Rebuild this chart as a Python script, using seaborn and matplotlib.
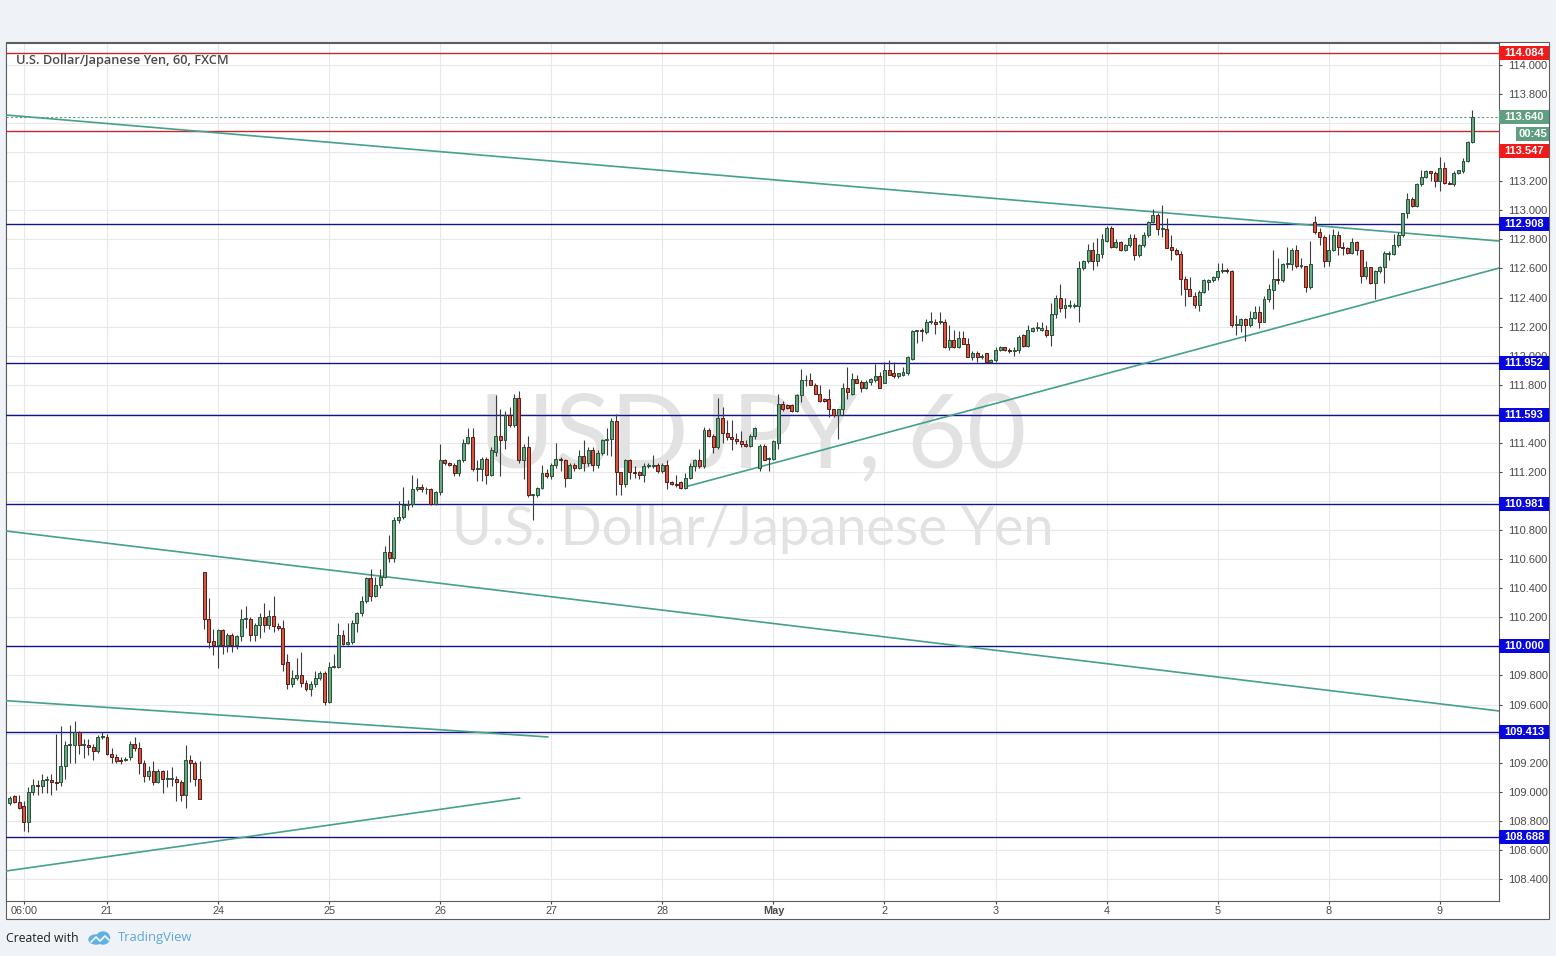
"""
USD/JPY horario (60 min, FXCM), 20 abr – 9 may 2017, estilo TradingView.
Velas leídas del gráfico; niveles horizontales y líneas de tendencia dibujadas a mano.
"""

import numpy as np
import pandas as pd
import matplotlib
matplotlib.use("Agg")
import matplotlib.pyplot as plt
import matplotlib.transforms as mtransforms
from matplotlib.patches import Rectangle, Ellipse
import seaborn as sns

# ─── Datos ──────────────────────────────────────────────────────────────────

# índice de barra: 0 = 21 abr 00:00; la primera vela es 20 abr 03:00
PRIMER_INDICE = -21

OPEN = [
    108.92, 108.97, 108.93, 108.90, 108.79, 109.00, 109.05, 109.04, 109.08, 109.08, 109.07, 109.07, 109.18, 109.32, 109.32, 109.41, 109.32, 109.32, 109.31, 109.28, 109.38,  # 20 abr
    109.38, 109.26, 109.24, 109.22, 109.22, 109.24, 109.33, 109.30, 109.20, 109.11, 109.14, 109.07, 109.14, 109.09, 109.09, 109.09, 109.07, 108.98, 109.22, 109.20, 109.09,  # 21 abr
    110.51, 110.19, 110.04, 110.01, 110.11, 110.01, 110.08, 110.01, 110.07, 110.19, 110.19, 110.08, 110.15, 110.20, 110.15, 110.21, 110.14, 110.13, 109.89, 109.74, 109.78, 109.80, 109.75, 109.71, 109.74, 109.78, 109.82,  # 23-24 abr
    109.62, 109.86, 109.86, 110.08, 110.02, 110.03, 110.16, 110.23, 110.31, 110.47, 110.35, 110.42, 110.48, 110.65, 110.61, 110.87, 110.89, 110.97, 110.98, 111.08, 111.10, 111.08, 111.08, 110.98,  # 25 abr
    111.06, 111.28, 111.26, 111.25, 111.19, 111.28, 111.40, 111.44, 111.22, 111.22, 111.29, 111.18, 111.34, 111.45, 111.42, 111.59, 111.52, 111.71, 111.28, 111.37, 111.04, 111.04, 111.09, 111.19,  # 26 abr
    111.17, 111.25, 111.29, 111.28, 111.16, 111.25, 111.23, 111.31, 111.26, 111.35, 111.25, 111.33, 111.42, 111.43, 111.55, 111.20, 111.12, 111.28, 111.20, 111.20, 111.18, 111.24, 111.24, 111.25,  # 27 abr
    111.21, 111.25, 111.13, 111.12, 111.13, 111.09, 111.16, 111.24, 111.28, 111.24, 111.49, 111.45, 111.37, 111.57, 111.47, 111.44, 111.43, 111.41, 111.39, 111.38, 111.45, 111.23, 111.38, 111.29,  # 28-30 abr
    111.29, 111.40, 111.67, 111.66, 111.66, 111.62, 111.73, 111.83, 111.83, 111.80, 111.74, 111.70, 111.70, 111.63, 111.59, 111.63, 111.78, 111.74, 111.84, 111.82, 111.78, 111.82, 111.83, 111.86,  # 1 may
    111.81, 111.90, 111.88, 111.86, 111.87, 111.88, 111.98, 112.17, 112.18, 112.16, 112.23, 112.23, 112.23, 112.23, 112.06, 112.11, 112.06, 112.12, 112.08, 111.99, 112.02, 111.99, 112.02, 111.96,  # 2 may
    111.97, 112.04, 112.06, 112.04, 112.03, 112.04, 112.14, 112.07, 112.17, 112.19, 112.18, 112.18, 112.14, 112.29, 112.40, 112.33, 112.34, 112.34, 112.34, 112.60, 112.65, 112.73, 112.65, 112.70,  # 3 may
    112.79, 112.88, 112.75, 112.78, 112.73, 112.76, 112.81, 112.69, 112.76, 112.83, 112.92, 112.97, 112.87, 112.87, 112.75, 112.73, 112.70, 112.53, 112.46, 112.41, 112.35, 112.44, 112.51, 112.52,  # 4 may
    112.54, 112.58, 112.59, 112.58, 112.21, 112.21, 112.25, 112.21, 112.26, 112.30, 112.23, 112.39, 112.45, 112.53, 112.52, 112.63, 112.63, 112.73, 112.62, 112.62, 112.47, 112.92, 112.85, 112.82,  # 5-7 may
    112.65, 112.73, 112.83, 112.75, 112.74, 112.71, 112.78, 112.73, 112.55, 112.61, 112.50, 112.58, 112.61, 112.70, 112.70, 112.76, 112.83, 112.98, 113.08, 113.03, 113.18, 113.23, 113.27, 113.26,  # 8 may
    113.20, 113.29, 113.19, 113.18, 113.26, 113.27, 113.34, 113.47,  # 9 may
]

HIGH = [
    108.97, 108.98, 108.98, 108.94, 109.03, 109.09, 109.08, 109.12, 109.11, 109.12, 109.40, 109.45, 109.35, 109.46, 109.49, 109.42, 109.36, 109.36, 109.33, 109.39, 109.41,
    109.40, 109.30, 109.26, 109.24, 109.24, 109.35, 109.38, 109.34, 109.22, 109.18, 109.21, 109.16, 109.15, 109.15, 109.17, 109.11, 109.08, 109.32, 109.25, 109.21, 109.21,
    110.51, 110.33, 110.12, 110.12, 110.12, 110.09, 110.09, 110.08, 110.26, 110.28, 110.20, 110.16, 110.23, 110.30, 110.25, 110.35, 110.16, 110.18, 109.95, 109.84, 109.92, 109.96, 109.77, 109.76, 109.83, 109.83, 109.83,
    109.89, 109.95, 110.16, 110.11, 110.16, 110.18, 110.24, 110.35, 110.48, 110.53, 110.48, 110.53, 110.69, 110.77, 110.89, 111.00, 111.10, 111.01, 111.18, 111.16, 111.12, 111.10, 111.09, 111.07,
    111.39, 111.29, 111.27, 111.26, 111.29, 111.43, 111.50, 111.50, 111.28, 111.30, 111.30, 111.37, 111.73, 111.63, 111.62, 111.65, 111.74, 111.76, 111.39, 111.45, 111.05, 111.10, 111.25, 111.22,
    111.26, 111.40, 111.30, 111.29, 111.26, 111.26, 111.35, 111.42, 111.37, 111.37, 111.35, 111.43, 111.50, 111.57, 111.60, 111.20, 111.29, 111.29, 111.24, 111.21, 111.26, 111.26, 111.32, 111.26,
    111.26, 111.28, 111.14, 111.18, 111.14, 111.19, 111.26, 111.29, 111.36, 111.51, 111.50, 111.46, 111.71, 111.65, 111.56, 111.56, 111.47, 111.48, 111.42, 111.46, 111.51, 111.39, 111.39, 111.30,
    111.42, 111.74, 111.69, 111.67, 111.67, 111.74, 111.91, 111.87, 111.88, 111.81, 111.80, 111.71, 111.77, 111.63, 111.63, 111.81, 111.92, 111.88, 111.87, 111.83, 111.83, 111.85, 111.94, 111.89,
    111.96, 111.97, 111.96, 111.88, 111.92, 112.00, 112.18, 112.18, 112.19, 112.25, 112.30, 112.25, 112.30, 112.25, 112.21, 112.18, 112.17, 112.17, 112.12, 112.03, 112.03, 112.01, 112.02, 111.98,
    112.06, 112.07, 112.06, 112.05, 112.06, 112.14, 112.15, 112.21, 112.20, 112.23, 112.23, 112.21, 112.36, 112.42, 112.49, 112.40, 112.38, 112.36, 112.65, 112.66, 112.77, 112.78, 112.81, 112.84,
    112.89, 112.89, 112.80, 112.79, 112.77, 112.84, 112.84, 112.77, 112.85, 112.93, 113.01, 112.98, 113.04, 112.95, 112.83, 112.74, 112.72, 112.55, 112.54, 112.44, 112.45, 112.53, 112.53, 112.55,
    112.64, 112.64, 112.60, 112.59, 112.28, 112.26, 112.26, 112.31, 112.34, 112.34, 112.41, 112.49, 112.73, 112.67, 112.64, 112.75, 112.74, 112.76, 112.67, 112.62, 112.79, 112.96, 112.88, 112.83,
    112.84, 112.87, 112.86, 112.78, 112.75, 112.81, 112.79, 112.73, 112.65, 112.61, 112.59, 112.62, 112.72, 112.72, 112.84, 112.85, 112.98, 113.12, 113.09, 113.19, 113.28, 113.28, 113.27, 113.27,
    113.37, 113.33, 113.20, 113.27, 113.28, 113.36, 113.48, 113.69,
]

LOW = [
    108.91, 108.92, 108.88, 108.73, 108.72, 108.98, 108.98, 108.99, 108.99, 108.98, 109.01, 109.04, 109.09, 109.20, 109.20, 109.26, 109.23, 109.25, 109.22, 109.27, 109.36,
    109.25, 109.20, 109.20, 109.19, 109.21, 109.22, 109.28, 109.12, 109.07, 109.08, 109.05, 109.06, 108.99, 109.03, 109.04, 108.94, 108.94, 108.89, 109.07, 109.04, 108.95,
    110.12, 109.99, 109.94, 109.85, 109.95, 109.96, 109.96, 109.98, 110.04, 110.13, 110.04, 110.04, 110.06, 110.10, 110.12, 110.10, 110.11, 109.83, 109.71, 109.72, 109.77, 109.72, 109.69, 109.66, 109.72, 109.77, 109.60,
    109.61, 109.85, 109.85, 110.01, 110.01, 110.02, 110.10, 110.21, 110.30, 110.31, 110.34, 110.40, 110.47, 110.58, 110.58, 110.85, 110.88, 110.94, 110.96, 111.07, 111.06, 111.05, 110.97, 110.97,
    111.04, 111.25, 111.24, 111.17, 111.17, 111.27, 111.39, 111.21, 111.14, 111.14, 111.12, 111.17, 111.31, 111.17, 111.36, 111.51, 111.51, 111.26, 111.15, 111.03, 110.87, 111.03, 111.08, 111.16,
    111.15, 111.23, 111.21, 111.10, 111.16, 111.21, 111.22, 111.21, 111.24, 111.21, 111.23, 111.32, 111.32, 111.31, 111.04, 111.04, 111.10, 111.15, 111.16, 111.15, 111.13, 111.23, 111.23, 111.19,
    111.19, 111.08, 111.11, 111.10, 111.08, 111.08, 111.15, 111.21, 111.23, 111.23, 111.44, 111.33, 111.36, 111.40, 111.42, 111.35, 111.39, 111.37, 111.37, 111.37, 111.43, 111.21, 111.28, 111.21,
    111.28, 111.36, 111.62, 111.63, 111.61, 111.61, 111.68, 111.79, 111.80, 111.74, 111.68, 111.68, 111.58, 111.58, 111.43, 111.59, 111.70, 111.73, 111.81, 111.75, 111.77, 111.80, 111.82, 111.78,
    111.81, 111.87, 111.85, 111.85, 111.86, 111.87, 111.97, 112.09, 112.10, 112.15, 112.22, 112.15, 112.22, 112.05, 112.04, 112.05, 112.05, 112.08, 111.99, 111.97, 111.96, 111.98, 111.95, 111.95,
    111.96, 112.03, 112.03, 112.02, 112.00, 112.02, 112.06, 112.06, 112.16, 112.17, 112.17, 112.13, 112.07, 112.26, 112.30, 112.26, 112.33, 112.33, 112.23, 112.59, 112.64, 112.59, 112.62, 112.67,
    112.78, 112.74, 112.74, 112.72, 112.72, 112.75, 112.66, 112.68, 112.75, 112.82, 112.91, 112.83, 112.82, 112.74, 112.66, 112.69, 112.42, 112.34, 112.41, 112.33, 112.31, 112.43, 112.45, 112.51,
    112.52, 112.57, 112.57, 112.20, 112.14, 112.16, 112.10, 112.20, 112.25, 112.19, 112.23, 112.37, 112.32, 112.49, 112.51, 112.60, 112.59, 112.60, 112.60, 112.44, 112.46, 112.84, 112.76, 112.61,
    112.62, 112.72, 112.69, 112.69, 112.70, 112.70, 112.69, 112.50, 112.53, 112.49, 112.39, 112.57, 112.50, 112.66, 112.69, 112.75, 112.82, 112.95, 113.02, 113.02, 113.17, 113.22, 113.20, 113.16,
    113.13, 113.18, 113.18, 113.17, 113.25, 113.26, 113.33, 113.46,
]

CLOSE = [
    108.96, 108.93, 108.89, 108.79, 109.00, 109.05, 109.04, 109.08, 109.08, 109.07, 109.06, 109.18, 109.32, 109.32, 109.41, 109.32, 109.32, 109.31, 109.28, 109.38, 109.38,
    109.26, 109.24, 109.21, 109.21, 109.22, 109.33, 109.30, 109.20, 109.11, 109.14, 109.07, 109.14, 109.09, 109.09, 109.09, 109.07, 108.98, 109.22, 109.20, 109.09, 108.95,
    110.19, 110.03, 110.01, 110.11, 110.01, 110.08, 110.01, 110.07, 110.19, 110.19, 110.08, 110.15, 110.20, 110.15, 110.21, 110.14, 110.13, 109.88, 109.74, 109.78, 109.80, 109.75, 109.71, 109.74, 109.78, 109.82, 109.62,
    109.86, 109.86, 110.08, 110.02, 110.03, 110.16, 110.23, 110.31, 110.47, 110.35, 110.42, 110.48, 110.65, 110.61, 110.87, 110.89, 110.97, 110.98, 111.08, 111.10, 111.08, 111.08, 110.98, 111.06,
    111.28, 111.26, 111.25, 111.19, 111.28, 111.40, 111.44, 111.22, 111.22, 111.29, 111.18, 111.35, 111.45, 111.42, 111.59, 111.52, 111.71, 111.28, 111.37, 111.04, 111.04, 111.09, 111.19, 111.17,
    111.25, 111.29, 111.28, 111.16, 111.25, 111.23, 111.31, 111.26, 111.35, 111.25, 111.33, 111.42, 111.43, 111.55, 111.20, 111.12, 111.28, 111.20, 111.19, 111.18, 111.24, 111.24, 111.25, 111.21,
    111.25, 111.13, 111.12, 111.11, 111.09, 111.16, 111.24, 111.28, 111.24, 111.49, 111.45, 111.37, 111.57, 111.47, 111.44, 111.43, 111.41, 111.39, 111.38, 111.45, 111.50, 111.38, 111.28, 111.29,
    111.41, 111.67, 111.63, 111.64, 111.62, 111.73, 111.83, 111.83, 111.80, 111.74, 111.69, 111.69, 111.63, 111.59, 111.63, 111.78, 111.75, 111.84, 111.81, 111.78, 111.82, 111.84, 111.86, 111.78,
    111.90, 111.87, 111.86, 111.88, 111.89, 111.99, 112.17, 112.18, 112.17, 112.23, 112.23, 112.22, 112.23, 112.06, 112.11, 112.06, 112.12, 112.08, 111.99, 112.02, 111.99, 112.00, 111.96, 111.97,
    112.04, 112.06, 112.04, 112.03, 112.04, 112.13, 112.07, 112.18, 112.19, 112.19, 112.19, 112.14, 112.29, 112.40, 112.33, 112.35, 112.35, 112.35, 112.60, 112.65, 112.73, 112.65, 112.70, 112.80,
    112.88, 112.75, 112.78, 112.73, 112.76, 112.81, 112.69, 112.76, 112.83, 112.92, 112.97, 112.87, 112.87, 112.74, 112.73, 112.70, 112.53, 112.46, 112.41, 112.35, 112.44, 112.52, 112.52, 112.54,
    112.58, 112.59, 112.58, 112.21, 112.21, 112.25, 112.21, 112.26, 112.30, 112.23, 112.39, 112.46, 112.53, 112.52, 112.63, 112.63, 112.73, 112.62, 112.62, 112.47, 112.63, 112.85, 112.82, 112.65,
    112.73, 112.83, 112.75, 112.74, 112.71, 112.78, 112.73, 112.55, 112.61, 112.50, 112.58, 112.61, 112.71, 112.71, 112.76, 112.83, 112.98, 113.08, 113.03, 113.18, 113.23, 113.27, 113.26, 113.20,
    113.29, 113.19, 113.18, 113.26, 113.28, 113.34, 113.47, 113.64,
]

# Niveles horizontales
NIVELES_ROJOS = [114.084, 113.547]
NIVELES_AZULES = [112.908, 111.952, 111.593, 110.981, 110.000, 109.413, 108.688]
PRECIO_ACTUAL = 113.640
CUENTA_ATRAS = "00:45"

# Líneas de tendencia: (índice de barra, precio) → (índice de barra, precio)
TENDENCIAS = [
    ((-21.8, 113.656), (300.8, 112.789)),
    ((125.1, 111.099), (300.8, 112.603)),
    ((-21.8, 110.794), (300.8, 109.556)),
    ((-21.8, 109.627), (95.3, 109.377)),
    ((-21.8, 108.455), (89.2, 108.957)),
]

# Eje de tiempo
POS_FECHAS = [-18, 0, 24, 48, 72, 96, 120, 144, 168, 192, 216, 240, 264, 288]
ETIQUETAS_FECHAS = ["06:00", "21", "24", "25", "26", "27", "28", "May",
                    "2", "3", "4", "5", "8", "9"]
TICKS_PRECIO = [108.4, 108.6, 108.8, 109.0, 109.2, 109.4, 109.6, 109.8, 110.0,
                110.2, 110.4, 110.6, 110.8, 111.0, 111.2, 111.4, 111.6, 111.8,
                112.0, 112.2, 112.4, 112.6, 112.8, 113.0, 113.2, 113.4, 113.6,
                113.8, 114.0]

TITULO = "U.S. Dollar/Japanese Yen, 60, FXCM"

# ─── Estilo ─────────────────────────────────────────────────────────────────

VERDE, VERDE_BORDE = "#6ba583", "#225437"
ROJO, ROJO_BORDE = "#d75442", "#5b1a13"
MECHA = "#3c3c3c"
GRIS_TEXTO = "#4a4a4a"
MARCO = "#5d5d5d"
LINEA_TEND = "#45a08c"
ROJO_NIVEL, AZUL_NIVEL = "#c62828", "#14148a"
ROJO_ETQ, AZUL_ETQ, VERDE_ETQ = "#f01a1a", "#0808de", "#5f9f7f"

W, H = 1556, 956
YMIN, YMAX = 108.2507, 114.1534
AX_W_PX, AX_H_PX = 1493, 858


def caja_px(x0, y0, x1, y1):
    """Rectángulo en píxeles (origen arriba a la izquierda) → coords de figura."""
    return [x0 / W, 1 - y1 / H, (x1 - x0) / W, (y1 - y0) / H]


sns.set_theme(style="white")
plt.rcParams["font.family"] = ["Liberation Sans", "DejaVu Sans"]

fig = plt.figure(figsize=(W / 100, H / 100), dpi=100, facecolor="#eff2f6")
fig.add_artist(Rectangle((6 / W, 1 - 919 / H), 1543 / W, 877 / H,
                         transform=fig.transFigure, facecolor="white",
                         edgecolor=MARCO, lw=0.8, zorder=-5))

ax = fig.add_axes(caja_px(6, 42.7, 1499, 900.7))
ax.set_facecolor("white")
ax.set_xlim(-21.82, 300.78)
ax.set_ylim(YMIN, YMAX)

# ─── Velas ──────────────────────────────────────────────────────────────────

o, h, l, c = map(np.array, (OPEN, HIGH, LOW, CLOSE))
x = np.arange(PRIMER_INDICE, PRIMER_INDICE + len(c))
sube = c >= o
cuerpo = np.maximum(np.abs(c - o), 0.006)
base = np.minimum(o, c)

ax.vlines(x, l, h, color=MECHA, lw=0.8, zorder=4)
ax.bar(x[sube], cuerpo[sube], bottom=base[sube], width=0.64, color=VERDE,
       edgecolor=VERDE_BORDE, lw=0.7, zorder=5)
ax.bar(x[~sube], cuerpo[~sube], bottom=base[~sube], width=0.64, color=ROJO,
       edgecolor=ROJO_BORDE, lw=0.7, zorder=5)

# ─── Niveles y tendencias ──────────────────────────────────────────────────

for nivel in NIVELES_ROJOS:
    ax.axhline(nivel, color=ROJO_NIVEL, lw=1.0, zorder=3)
for nivel in NIVELES_AZULES:
    ax.axhline(nivel, color=AZUL_NIVEL, lw=1.0, zorder=3)
ax.axhline(PRECIO_ACTUAL, color=VERDE_ETQ, lw=0.8, ls=(0, (2, 2)), zorder=3)

tend = pd.DataFrame(
    [(i, p[0], p[1]) for i, tramo in enumerate(TENDENCIAS) for p in tramo],
    columns=["linea", "x", "y"],
)
sns.lineplot(data=tend, x="x", y="y", units="linea", estimator=None,
             color=LINEA_TEND, lw=1.2, ax=ax, zorder=3)
ax.set_xlabel("")
ax.set_ylabel("")

# ─── Etiquetas de precio en el eje derecho ──────────────────────────────────

trans = mtransforms.blended_transform_factory(ax.transAxes, ax.transData)
px_x = 1 / AX_W_PX
px_y = (YMAX - YMIN) / AX_H_PX

# (valor, texto, color, desplazamiento vertical px, inicio horizontal px)
etiquetas = [(nv, f"{nv:.3f}", AZUL_ETQ, 0, 0) for nv in NIVELES_AZULES]
etiquetas += [
    (NIVELES_ROJOS[0], f"{NIVELES_ROJOS[0]:.3f}", ROJO_ETQ, 0, 0),
    (NIVELES_ROJOS[1], f"{NIVELES_ROJOS[1]:.3f}", ROJO_ETQ, 20, 0),
    (PRECIO_ACTUAL, f"{PRECIO_ACTUAL:.3f}", VERDE_ETQ, 0, 0),
    (PRECIO_ACTUAL, CUENTA_ATRAS, VERDE_ETQ, 17, 17),
]

for valor, texto, color, dy_px, x0_px in etiquetas:
    yc = valor - dy_px * px_y
    ax.add_patch(Rectangle((1 + x0_px * px_x, yc - 7 * px_y),
                           (50 - x0_px) * px_x, 14 * px_y, transform=trans,
                           facecolor=color, edgecolor="none", clip_on=False,
                           zorder=20))
    ax.text(1 + (x0_px + 50) / 2 * px_x, yc, texto, transform=trans,
            color="white", fontsize=8, fontweight="bold", ha="center",
            va="center", clip_on=False, zorder=21)

# las marcas del eje que quedan tapadas por una etiqueta no se ven
centros = [v - d * px_y for v, _, _, d, _ in etiquetas]
texto_ticks = [
    "" if min(abs(t - cy) for cy in centros) < 6 * px_y else f"{t:.3f}"
    for t in TICKS_PRECIO
]

# ─── Ejes ───────────────────────────────────────────────────────────────────

ax.yaxis.tick_right()
ax.set_yticks(TICKS_PRECIO)
ax.set_yticklabels(texto_ticks)
ax.set_xticks(POS_FECHAS)
ax.set_xticklabels(ETIQUETAS_FECHAS)
for etq in ax.get_xticklabels():
    if etq.get_text() == "May":
        etq.set_fontweight("bold")
ax.tick_params(axis="y", labelsize=8, colors=GRIS_TEXTO, length=2.5,
               width=0.8, pad=4, right=True, left=False)
ax.tick_params(axis="x", labelsize=7.8, colors=GRIS_TEXTO, length=2,
               width=0.8, pad=2, bottom=True)
ax.grid(True, color="#e8e8e8", lw=0.8)
ax.set_axisbelow(True)
for lado in ax.spines.values():
    lado.set_color(MARCO)
    lado.set_linewidth(0.8)

# ─── Textos ─────────────────────────────────────────────────────────────────

ax.text(0.5, 0.539, "USDJPY, 60", transform=ax.transAxes, ha="center",
        va="center", fontsize=74, color="#e2e2e2", family="Lato", zorder=1)
ax.text(0.5, 0.433, "U.S. Dollar/Japanese Yen", transform=ax.transAxes,
        ha="center", va="center", fontsize=39, color="#e2e2e2",
        family="Lato", zorder=1)
ax.text(0.0067, 0.9798, TITULO, transform=ax.transAxes, ha="left",
        va="center", fontsize=9.2, fontweight="semibold", family="Open Sans",
        color=GRIS_TEXTO, zorder=6)

fig.text(6 / W, 1 - 938 / H, "Created with", fontsize=8.8, color="#1f1f1f",
         family="Open Sans", va="center")
fig.text(118 / W, 1 - 938 / H, "TradingView", fontsize=9.4, color="#5ea9d8",
         family="Open Sans", va="center")

logo = fig.add_axes(caja_px(88, 930, 112, 946))
logo.set_xlim(0, 24)
logo.set_ylim(0, 16)
logo.axis("off")
logo.add_patch(Ellipse((8, 6.5), 14, 9, color="#5eb2e3"))
logo.add_patch(Ellipse((15, 8), 13, 12, color="#5eb2e3"))
logo.plot([3, 8, 12, 17, 21], [4, 9, 5, 10, 6], color="white", lw=1.2)

fig.savefig("out.png", dpi=100, facecolor=fig.get_facecolor())
